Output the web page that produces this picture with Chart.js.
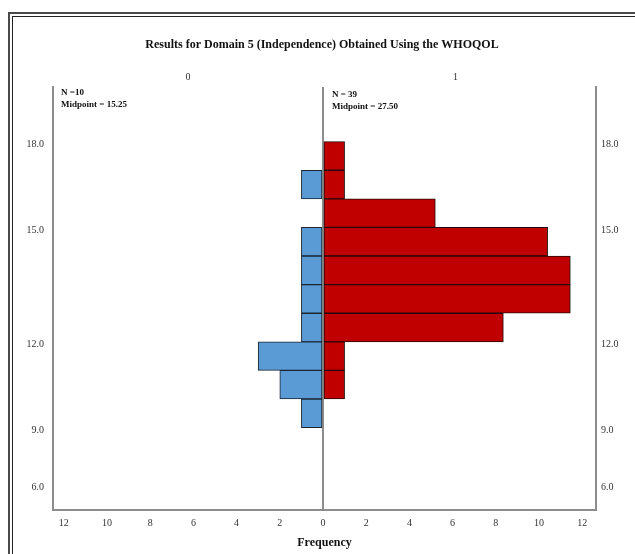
<!DOCTYPE html>
<html><head><meta charset="utf-8">
<script src="https://cdn.jsdelivr.net/npm/chart.js@4/dist/chart.umd.min.js"></script>
<style>
html,body{margin:0;padding:0;background:#fff;width:635px;height:554px;overflow:hidden}
#wrap{position:relative;width:635px;height:554px;overflow:hidden}
canvas{position:absolute;left:0;top:0}
.f1{position:absolute;left:8px;top:12px;width:700px;height:700px;border-left:2px solid #4a4a4a;border-top:2px solid #4a4a4a}
.f2{position:absolute;left:12px;top:16px;width:700px;height:700px;border-left:1px solid #222;border-top:1px solid #222}
</style></head><body>
<div id="wrap"><div class="f1"></div><div class="f2"></div><canvas id="c" width="635" height="554"></canvas></div>
<script>
const chartTitle = 'Results for Domain 5 (Independence) Obtained Using the WHOQOL';
const groupNames = ['0', '1'];
const groupN = ['N =10', 'N = 39'];
const groupMidpoints = ['Midpoint = 15.25', 'Midpoint = 27.50'];
const axisTitle = 'Frequency';
const binCenters = [17.5, 16.5, 15.5, 14.5, 13.5, 12.5, 11.5, 10.5, 9.5, 8.5];
const freq0 = [null, 1, null, 1, 1, 1, 1, 3, 2, 1];
const freq1 = [1, 1, 5.2, 10.4, 11.45, 11.45, 8.35, 1, 1, null];
const yTickValues = [18, 15, 11, 8, 6];
const yTickLabels = ['18.0', '15.0', '12.0', '9.0', '6.0'];
const xTickValues = [-12, -10, -8, -6, -4, -2, 0, 2, 4, 6, 8, 10, 12];

const SERIF = '"Liberation Serif", "DejaVu Serif", serif';
const AXIS_GRAY = '#8c8c8c';

const headerPlugin = {
  id: 'header',
  afterDraw(chart) {
    const ctx = chart.ctx;
    const a = chart.chartArea;
    const zx = chart.scales.x.getPixelForValue(0);
    ctx.save();
    ctx.fillStyle = '#111';
    ctx.textBaseline = 'middle';
    ctx.textAlign = 'center';
    ctx.font = 'bold 12px ' + SERIF;
    ctx.fillText(chartTitle, 322, 45);
    ctx.font = '10px ' + SERIF;
    ctx.fillStyle = '#333';
    ctx.fillText(groupNames[0], (a.left + zx) / 2, 77);
    ctx.fillText(groupNames[1], (zx + a.right) / 2 - 4, 77);
    ctx.fillStyle = '#111';
    ctx.textAlign = 'left';
    ctx.font = 'bold 9px ' + SERIF;
    ctx.fillText(groupN[0], a.left + 8, 93);
    ctx.fillText(groupMidpoints[0], a.left + 8, 105);
    ctx.fillText(groupN[1], zx + 9, 95);
    ctx.fillText(groupMidpoints[1], zx + 9, 107);
    ctx.restore();
  }
};

const yCommon = {
  type: 'linear', min: 5.12, max: 19.91, offset: false,
  afterBuildTicks: s => { s.ticks = yTickValues.map(v => ({ value: v })); },
  grid: { display: false, drawTicks: false, offset: false },
  border: { display: true, color: AXIS_GRAY, width: 2 }
};

new Chart(document.getElementById('c'), {
  type: 'bar',
  data: {
    datasets: [
      {
        label: groupNames[0],
        data: binCenters.map((b, i) => ({ y: b, x: freq0[i] == null ? null : -freq0[i] })),
        backgroundColor: '#5B9BD5', borderColor: '#1a2430', borderWidth: 1, borderSkipped: false,
        yAxisID: 'y'
      },
      {
        label: groupNames[1],
        data: binCenters.map((b, i) => ({ y: b, x: freq1[i] })),
        backgroundColor: '#C00000', borderColor: '#220808', borderWidth: 1, borderSkipped: false,
        yAxisID: 'y'
      }
    ]
  },
  options: {
    indexAxis: 'y',
    responsive: false,
    animation: false,
    devicePixelRatio: 1,
    layout: { padding: { top: 87, left: 0, right: 0, bottom: 0 } },
    datasets: { bar: { grouped: false, barPercentage: 1, categoryPercentage: 1 } },
    plugins: { legend: { display: false }, tooltip: { enabled: false }, title: { display: false } },
    scales: {
      x: {
        type: 'linear', min: -12.5, max: 12.64,
        afterBuildTicks: s => { s.ticks = xTickValues.map(v => ({ value: v })); },
        ticks: { callback: v => String(Math.abs(v)), font: { family: SERIF, size: 10 }, color: '#333', padding: 7, maxRotation: 0 },
        grid: { display: true, drawTicks: false, lineWidth: 2,
          color: c => (c.tick && c.tick.value === 0) ? AXIS_GRAY : 'rgba(0,0,0,0)' },
        border: { display: true, color: AXIS_GRAY, width: 2 },
        title: { display: true, text: axisTitle, font: { family: SERIF, size: 12, weight: 'bold' }, color: '#111', padding: { top: 4, bottom: 4 } },
        afterFit: s => { s.height = 44; }
      },
      y: Object.assign({}, yCommon, {
        position: 'left',
        ticks: { callback: v => yTickLabels[yTickValues.indexOf(v)], font: { family: SERIF, size: 10 }, color: '#333', padding: 9, labelOffset: 3 },
        afterFit: s => { s.width = 53; }
      }),
      y2: Object.assign({}, yCommon, {
        position: 'right',
        ticks: { callback: v => yTickLabels[yTickValues.indexOf(v)], font: { family: SERIF, size: 10 }, color: '#333', padding: 5, labelOffset: 3 },
        afterFit: s => { s.width = 39; }
      })
    }
  },
  plugins: [headerPlugin]
});
</script>
</body></html>
